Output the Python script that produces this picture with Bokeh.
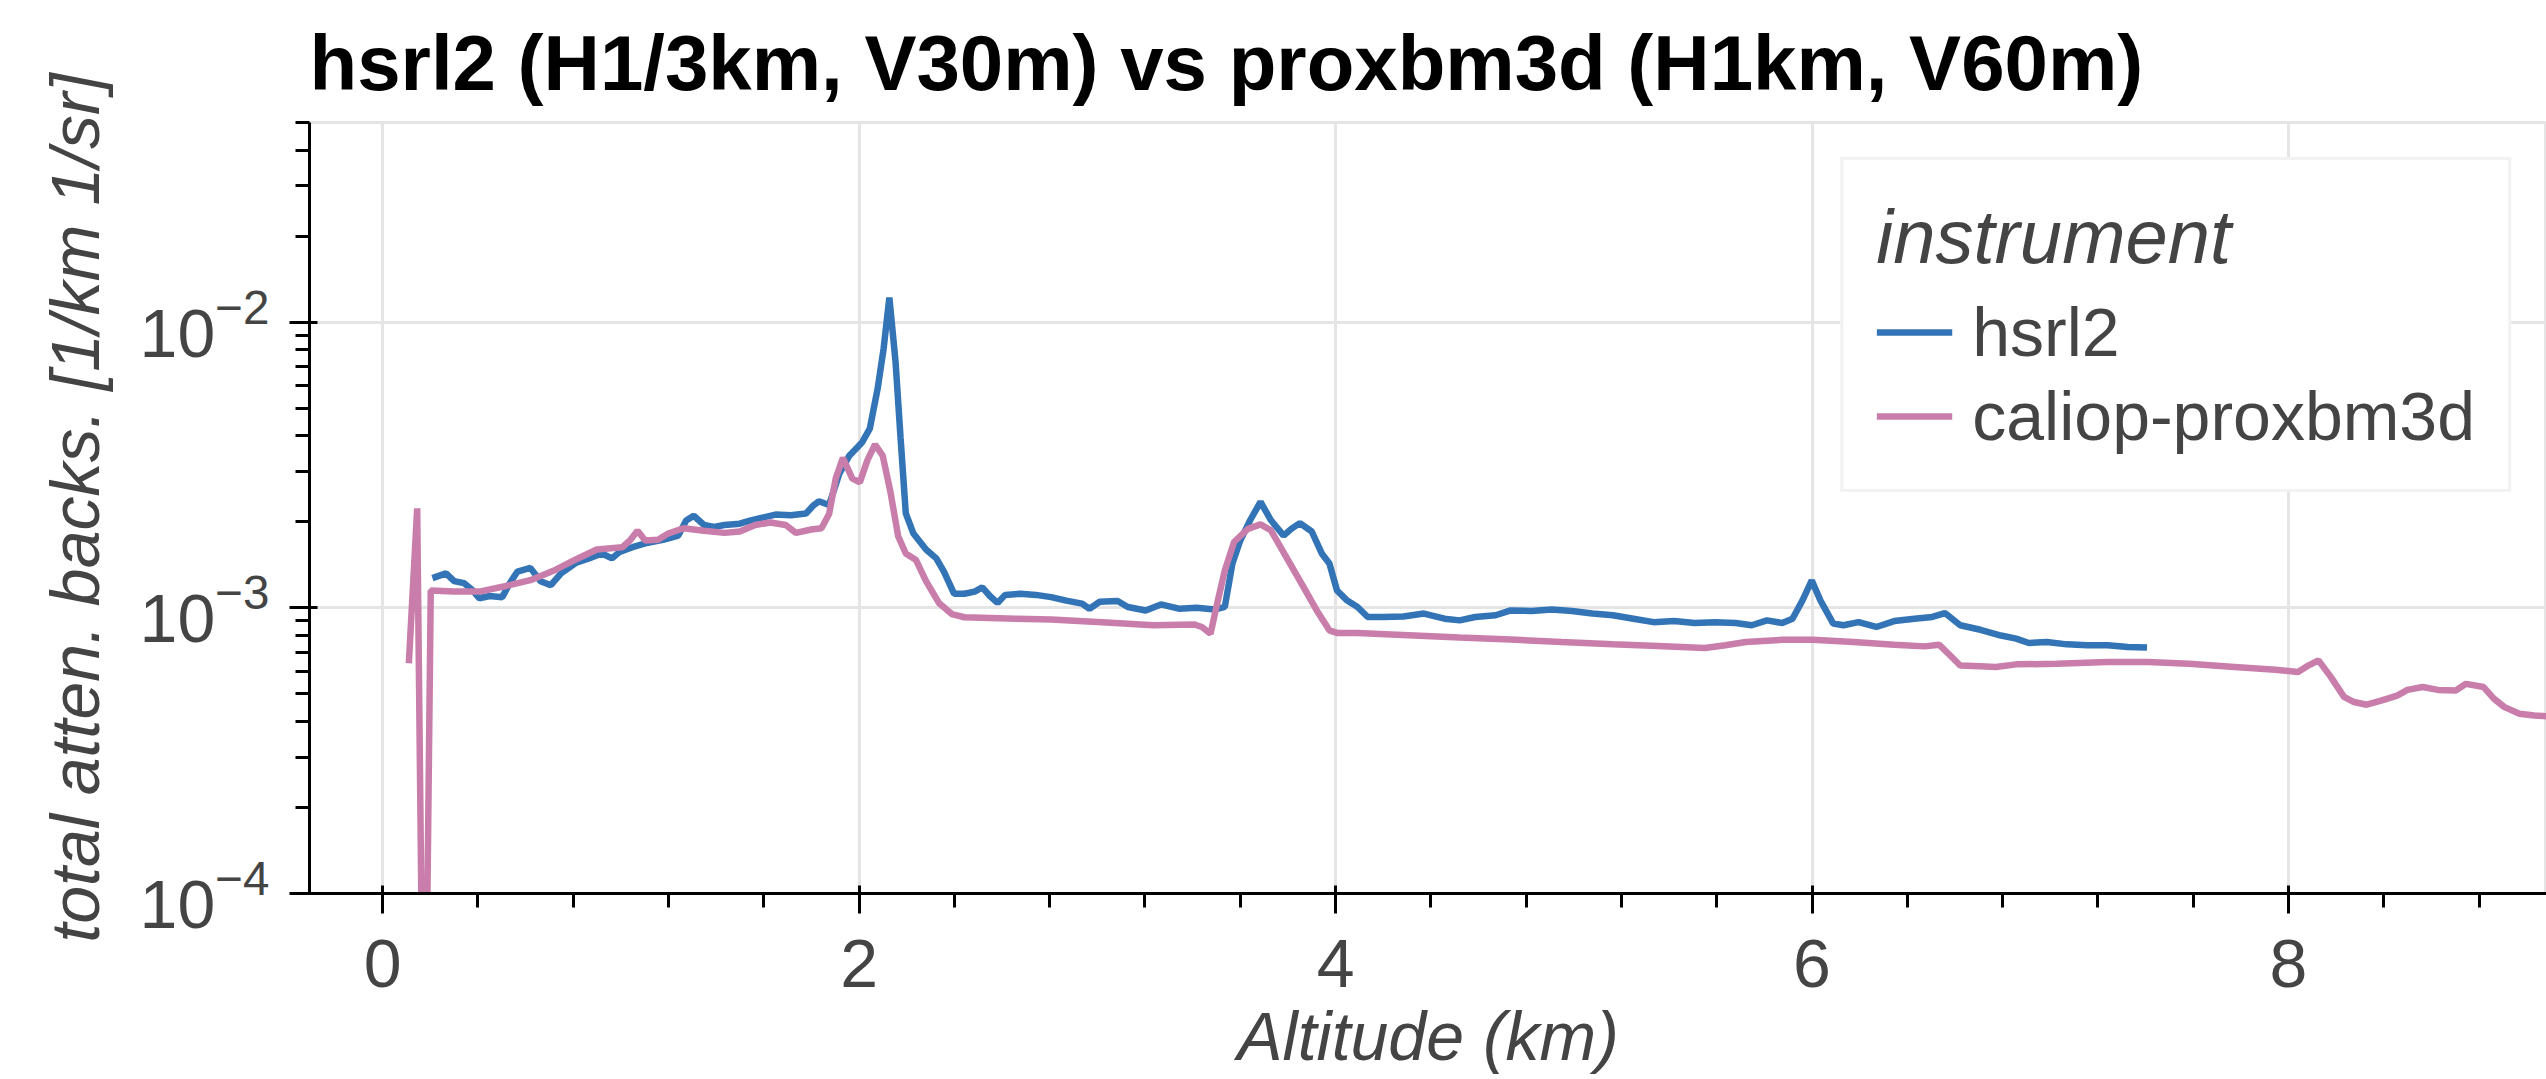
from bokeh.plotting import figure
from bokeh.models import Range1d, FixedTicker, LogTickFormatter
from bokeh.embed import file_html
from bokeh.resources import INLINE

# ---------------- data ----------------
hsrl2_alt = [0.209, 0.266, 0.300, 0.342, 0.374, 0.406, 0.449, 0.502, 0.534, 0.566, 0.620, 0.663,
             0.706, 0.749, 0.813, 0.866, 0.920, 0.963, 0.995, 1.049, 1.113, 1.177, 1.241, 1.274,
             1.306, 1.349, 1.391, 1.435, 1.499, 1.542, 1.585, 1.649, 1.713, 1.777, 1.810, 1.831,
             1.874, 1.917, 1.959, 2.013, 2.045, 2.078, 2.103, 2.127, 2.153, 2.174, 2.196, 2.228,
             2.281, 2.324, 2.356, 2.399, 2.442, 2.485, 2.517, 2.549, 2.581, 2.613, 2.678, 2.742,
             2.806, 2.870, 2.935, 2.967, 3.010, 3.085, 3.128, 3.203, 3.267, 3.342, 3.417, 3.492,
             3.535, 3.567, 3.600, 3.642, 3.685, 3.728, 3.782, 3.814, 3.850, 3.900, 3.942, 3.974,
             4.006, 4.049, 4.092, 4.135, 4.200, 4.285, 4.371, 4.457, 4.521, 4.586, 4.672, 4.735,
             4.822, 4.907, 4.992, 5.078, 5.164, 5.250, 5.335, 5.421, 5.507, 5.593, 5.679, 5.747,
             5.811, 5.875, 5.918, 5.960, 5.999, 6.035, 6.089, 6.132, 6.195, 6.270, 6.345, 6.430,
             6.505, 6.558, 6.622, 6.707, 6.793, 6.857, 6.910, 6.985, 7.070, 7.155, 7.241, 7.326,
             7.406]
hsrl2_tab = [1.27e-3, 1.32e-3, 1.24e-3, 1.22e-3, 1.16e-3, 1.08e-3, 1.10e-3, 1.09e-3, 1.22e-3, 1.34e-3,
             1.38e-3, 1.24e-3, 1.20e-3, 1.32e-3, 1.44e-3, 1.49e-3, 1.55e-3, 1.49e-3, 1.57e-3, 1.63e-3,
             1.69e-3, 1.73e-3, 1.79e-3, 2.02e-3, 2.10e-3, 1.95e-3, 1.92e-3, 1.95e-3, 1.97e-3, 2.02e-3,
             2.06e-3, 2.12e-3, 2.11e-3, 2.14e-3, 2.29e-3, 2.36e-3, 2.29e-3, 2.95e-3, 3.41e-3, 3.80e-3,
             4.24e-3, 5.86e-3, 8.09e-3, 1.22e-2, 7.26e-3, 3.94e-3, 2.14e-3, 1.82e-3, 1.60e-3, 1.49e-3,
             1.34e-3, 1.12e-3, 1.12e-3, 1.14e-3, 1.18e-3, 1.10e-3, 1.04e-3, 1.11e-3, 1.12e-3, 1.11e-3,
             1.09e-3, 1.06e-3, 1.035e-3, 9.93e-4, 1.05e-3, 1.057e-3, 1.007e-3, 9.79e-4, 1.028e-3, 9.93e-4,
             1.00e-3, 9.86e-4, 1.007e-3, 1.43e-3, 1.72e-3, 2.03e-3, 2.35e-3, 2.03e-3, 1.79e-3, 1.89e-3,
             1.98e-3, 1.85e-3, 1.55e-3, 1.43e-3, 1.15e-3, 1.06e-3, 1.007e-3, 9.29e-4, 9.29e-4, 9.33e-4,
             9.55e-4, 9.16e-4, 9.04e-4, 9.29e-4, 9.42e-4, 9.79e-4, 9.75e-4, 9.86e-4, 9.75e-4, 9.55e-4,
             9.42e-4, 9.16e-4, 8.91e-4, 8.99e-4, 8.85e-4, 8.91e-4, 8.85e-4, 8.69e-4, 9.04e-4, 8.85e-4,
             9.16e-4, 1.062e-3, 1.247e-3, 1.062e-3, 8.81e-4, 8.69e-4, 8.91e-4, 8.57e-4, 8.99e-4, 9.16e-4,
             9.29e-4, 9.59e-4, 8.69e-4, 8.38e-4, 8.00e-4, 7.80e-4, 7.53e-4, 7.59e-4, 7.45e-4, 7.40e-4,
             7.40e-4, 7.29e-4, 7.26e-4]

caliop_alt = [0.110, 0.145, 0.175, 0.202, 0.299, 0.406, 0.513, 0.620, 0.727, 0.813, 0.899, 1.006,
              1.038, 1.070, 1.102, 1.156, 1.199, 1.263, 1.349, 1.435, 1.499, 1.564, 1.628, 1.692,
              1.735, 1.799, 1.842, 1.874, 1.902, 1.932, 1.971, 2.003, 2.035, 2.067, 2.099, 2.131,
              2.164, 2.196, 2.239, 2.281, 2.335, 2.389, 2.442, 2.656, 2.806, 3.020, 3.235, 3.406,
              3.439, 3.475, 3.503, 3.535, 3.574, 3.632, 3.685, 3.728, 3.792, 3.856, 3.921, 3.974,
              4.006, 4.092, 4.306, 4.521, 4.735, 4.949, 5.164, 5.378, 5.550, 5.636, 5.722, 5.875,
              6.003, 6.174, 6.345, 6.473, 6.533, 6.580, 6.622, 6.707, 6.771, 6.857, 7.027, 7.241,
              7.411, 7.582, 7.774, 7.945, 8.040, 8.083, 8.126, 8.179, 8.233, 8.275, 8.328, 8.392,
              8.456, 8.499, 8.563, 8.627, 8.702, 8.745, 8.819, 8.862, 8.905, 8.969, 9.033, 9.093,
              9.150]
caliop_tab = [6.4e-4, 2.23e-3, 1.0e-5, 1.15e-3, 1.14e-3, 1.14e-3, 1.19e-3, 1.25e-3, 1.36e-3, 1.48e-3,
              1.60e-3, 1.63e-3, 1.72e-3, 1.86e-3, 1.72e-3, 1.73e-3, 1.82e-3, 1.90e-3, 1.86e-3, 1.83e-3,
              1.85e-3, 1.95e-3, 1.99e-3, 1.95e-3, 1.83e-3, 1.88e-3, 1.90e-3, 2.13e-3, 2.84e-3, 3.35e-3,
              2.84e-3, 2.75e-3, 3.29e-3, 3.73e-3, 3.41e-3, 2.56e-3, 1.78e-3, 1.55e-3, 1.47e-3, 1.24e-3,
              1.04e-3, 9.51e-4, 9.27e-4, 9.16e-4, 9.10e-4, 8.91e-4, 8.69e-4, 8.75e-4, 8.57e-4, 8.11e-4,
              1.035e-3, 1.35e-3, 1.70e-3, 1.89e-3, 1.96e-3, 1.87e-3, 1.51e-3, 1.22e-3, 9.79e-4, 8.34e-4,
              8.17e-4, 8.17e-4, 8.02e-4, 7.87e-4, 7.74e-4, 7.59e-4, 7.45e-4, 7.33e-4, 7.23e-4, 7.40e-4,
              7.59e-4, 7.73e-4, 7.73e-4, 7.59e-4, 7.43e-4, 7.33e-4, 7.43e-4, 6.81e-4, 6.28e-4, 6.25e-4,
              6.21e-4, 6.34e-4, 6.37e-4, 6.46e-4, 6.46e-4, 6.37e-4, 6.21e-4, 6.07e-4, 5.96e-4, 6.28e-4,
              6.55e-4, 5.71e-4, 4.88e-4, 4.68e-4, 4.58e-4, 4.74e-4, 4.93e-4, 5.16e-4, 5.28e-4, 5.16e-4,
              5.14e-4, 5.42e-4, 5.28e-4, 4.81e-4, 4.50e-4, 4.26e-4, 4.20e-4, 4.17e-4, 4.15e-4]

series_names = ["hsrl2", "caliop-proxbm3d"]
series_colors = ["#3274b5", "#c97dab"]
x_major_ticks = [0, 2, 4, 6, 8]
y_major_ticks = [1e-4, 1e-3, 1e-2]
y_minor_mantissas = [2, 3, 4, 5, 6, 7, 8, 9]

TITLE = "hsrl2 (H1/3km, V30m) vs proxbm3d (H1km, V60m)"
FONT = "Liberation Sans"

p = figure(width=2546, height=1079,
           x_range=Range1d(-0.307, 9.083), y_range=Range1d(1e-4, 5e-2),
           y_axis_type="log", output_backend="svg", toolbar_location=None,
           title=TITLE,
           min_border_left=309, min_border_right=0, min_border_top=122, min_border_bottom=186)

p.title.text_font = FONT
p.title.text_font_size = "78px"
p.title.text_font_style = "bold"
p.title.text_color = "black"
p.title.vertical_align = "bottom"
p.title.standoff = 32

# axes
p.xaxis.ticker = FixedTicker(ticks=x_major_ticks,
                             minor_ticks=[t + 0.4 * k for t in x_major_ticks + [10] for k in range(-4, 1)])
p.yaxis.ticker = FixedTicker(ticks=y_major_ticks,
                             minor_ticks=[m * t for t in y_major_ticks for m in y_minor_mantissas])
p.yaxis.formatter = LogTickFormatter()
p.xaxis.axis_label = "Altitude (km)"
p.yaxis.axis_label = "total atten. backs. [1/km 1/sr]"

for ax in (p.xaxis[0], p.yaxis[0]):
    ax.axis_label_text_font = FONT
    ax.axis_label_text_font_size = "68px"
    ax.axis_label_text_font_style = "italic"
    ax.axis_label_text_color = "#444444"
    ax.major_label_text_font = FONT
    ax.major_label_text_font_size = "68px"
    ax.major_label_text_color = "#444444"
    ax.axis_line_color = "black"
    ax.axis_line_width = 3
    ax.major_tick_line_color = "black"
    ax.major_tick_line_width = 3
    ax.minor_tick_line_color = "black"
    ax.minor_tick_line_width = 3
    ax.major_tick_out = 20
    ax.major_tick_in = 8
    ax.minor_tick_out = 14
    ax.minor_tick_in = 0

p.xaxis.major_label_standoff = 26
p.yaxis.major_label_standoff = 20
p.xaxis.axis_label_standoff = 8
p.yaxis.axis_label_standoff = 24

# grid / outline
p.xgrid.grid_line_color = "#e5e5e5"
p.ygrid.grid_line_color = "#e5e5e5"
p.xgrid.grid_line_width = 3
p.ygrid.grid_line_width = 3
p.outline_line_color = "#e5e5e5"
p.outline_line_width = 3

# lines
p.line(hsrl2_alt, hsrl2_tab, color=series_colors[0], line_width=6.5, legend_label=series_names[0])
p.line(caliop_alt, caliop_tab, color=series_colors[1], line_width=6.5, legend_label=series_names[1])

lg = p.legend[0]
lg.title = "instrument"
lg.title_text_font = FONT
lg.title_text_font_size = "76px"
lg.title_text_font_style = "italic"
lg.title_text_color = "#444444"
lg.title_standoff = 12
lg.label_text_font = FONT
lg.label_text_font_size = "68px"
lg.label_text_color = "#444444"
lg.location = "top_right"
lg.margin = 35
lg.padding = 33
lg.spacing = 4
lg.glyph_width = 76
lg.glyph_height = 80
lg.label_height = 80
lg.label_standoff = 20
lg.border_line_color = "#e5e5e5"
lg.border_line_width = 3
lg.background_fill_alpha = 1.0

open("out.html", "w").write(file_html(p, INLINE))
